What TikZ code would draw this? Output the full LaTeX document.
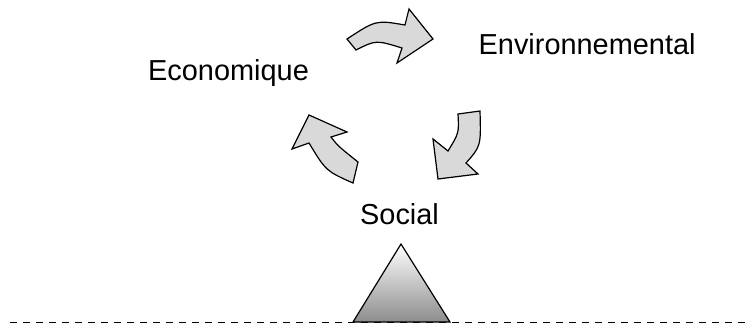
\documentclass[tikz,border=0pt]{standalone}
\usepackage{fontspec}
\setmainfont{Liberation Sans}
\begin{document}
\begin{tikzpicture}[x=1pt,y=-1pt,
  cyclearrow/.style={draw=black,fill=black!15,line width=1.2pt,line join=miter},
  lbl/.style={anchor=base west,inner sep=0pt,font=\fontsize{28.9}{31}\selectfont}]
\useasboundingbox (0,0) rectangle (750,325);
% labels
\node[lbl] (eco) at (148,80) {Economique};
\node[lbl] (env) at (478.5,54) {Environnemental};
\node[lbl] (soc) at (360,224) {Social};
% top arrow
\draw[cyclearrow] (347,39) .. controls (376,20) .. (405,25) -- (409,9) -- (433,39)
  -- (397,63) -- (402,48) .. controls (376,40) .. (356,50) -- cycle;
% right arrow
\draw[cyclearrow] (458,114) -- (480,111) .. controls (481,146) .. (466,163) -- (478,174)
  -- (438,179) -- (433,139) -- (448,151) .. controls (459,133) .. (458,114) -- cycle;
% left arrow
\draw[cyclearrow] (353,183) -- (358,162) .. controls (338,146) .. (331,137) -- (347,132)
  -- (309,115) -- (292,149) -- (309,143) .. controls (326,171) .. (353,183) -- cycle;
% ground
\coordinate (gl) at (10,322.5);
\coordinate (gr) at (745,322.5);
\draw[line width=1.3pt,dash pattern=on 7pt off 6pt] (gl) -- (gr);
% triangle
\coordinate (apex) at (401,244);
\coordinate (bl) at (353,322);
\coordinate (br) at (450,322);
\shade[top color=white,bottom color=black!45] (apex) -- (br) -- (bl) -- cycle;
\draw[line width=1.2pt,line join=miter] (apex) -- (br) -- (bl) -- cycle;
\end{tikzpicture}
\end{document}
